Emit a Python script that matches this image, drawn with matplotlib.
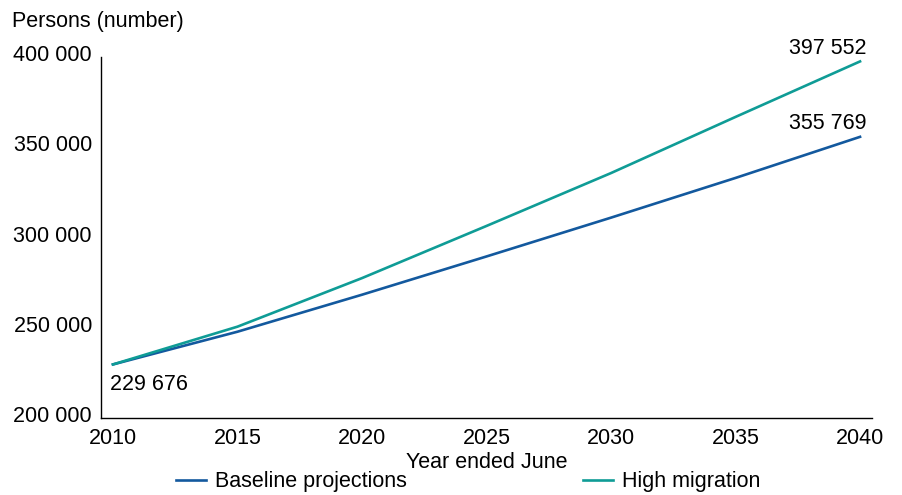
import matplotlib
matplotlib.use("Agg")
import matplotlib.pyplot as plt
import matplotlib.transforms as mtransforms
from matplotlib.ticker import FuncFormatter

years = [2010, 2015, 2020, 2025, 2030, 2035, 2040]
baseline = [229676, 247800, 268300, 289500, 311000, 333000, 355769]
high_migration = [229676, 250600, 277500, 306400, 335700, 366800, 397552]
yticks = [200000, 250000, 300000, 350000, 400000]

plt.rcParams['font.family'] = ['Liberation Sans', 'DejaVu Sans']

blue = '#13599E'
teal = '#0F9C96'
FS = 15.5

fig = plt.figure(figsize=(9.03, 4.95), dpi=100)
ax = fig.add_axes([101/903, 1-418/495, (872-101)/903, (418-57)/495])

ax.plot(years, baseline, color=blue, lw=1.9, label='Baseline projections')
ax.plot(years, high_migration, color=teal, lw=1.9, label='High migration')

ax.set_xlim(2009.52, 2040.48)
ax.set_ylim(200000, 400000)
ax.set_xticks(years)
ax.set_yticks(yticks)
fmt = lambda v, p: f"{int(v):,}".replace(",", " ")
ax.yaxis.set_major_formatter(FuncFormatter(fmt))
ax.tick_params(axis='both', length=0, labelsize=FS, colors='black')
ax.tick_params(axis='y', pad=6.5)
ax.tick_params(axis='x', pad=7.5)
shift = mtransforms.ScaledTranslation(0, 4/100, fig.dpi_scale_trans)
for lbl in ax.get_yticklabels():
    lbl.set_transform(lbl.get_transform() + shift)
for s in ['top', 'right']:
    ax.spines[s].set_visible(False)
for s in ['left', 'bottom']:
    ax.spines[s].set_color('black')
    ax.spines[s].set_linewidth(1.0)

ax.set_xlabel('Year ended June', fontsize=FS, labelpad=2)

fig.text(12/903, 1-22/495, 'Persons (number)', fontsize=FS, ha='left', va='center')

ax.annotate(fmt(baseline[0], None), (years[0], baseline[0]), xytext=(-2, -7),
            textcoords='offset points', ha='left', va='top', fontsize=FS)
ax.annotate(fmt(high_migration[-1], None), (years[-1], high_migration[-1]), xytext=(5, 2),
            textcoords='offset points', ha='right', va='bottom', fontsize=FS)
ax.annotate(fmt(baseline[-1], None), (years[-1], baseline[-1]), xytext=(5, 2),
            textcoords='offset points', ha='right', va='bottom', fontsize=FS)

fig.legend(loc='center', bbox_to_anchor=(468/903, 1-482/495), ncol=2, frameon=False,
           fontsize=FS, handlelength=1.4, handletextpad=0.4, columnspacing=8.2,
           borderaxespad=0, borderpad=0)

fig.savefig('out.png', dpi=100)
